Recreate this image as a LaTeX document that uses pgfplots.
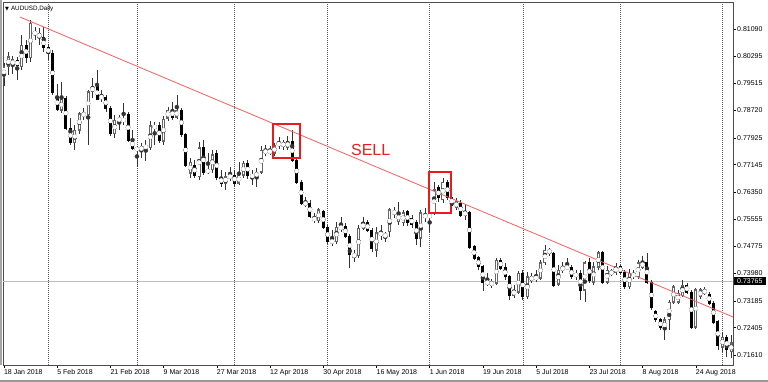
\documentclass[border=0pt]{standalone}
\usepackage{fontspec}
\setmainfont{Liberation Sans}
\newfontfamily\symfont{DejaVu Sans}
\usepackage{pgfplots}
\usepackage{pgfplotstable}
\pgfplotsset{compat=1.18}
\definecolor{trend}{RGB}{250,95,95}
\definecolor{boxred}{RGB}{232,28,32}
\definecolor{sellred}{RGB}{238,30,30}
\pgfplotstableread{
i o h l c
0 0.7969 0.8010 0.7943 0.7999
1 0.7999 0.8042 0.7975 0.8028
2 0.8004 0.8031 0.7978 0.8019
3 0.8016 0.8028 0.7961 0.8004
4 0.7999 0.8092 0.7990 0.8062
5 0.8062 0.8077 0.8010 0.8025
6 0.8025 0.8135 0.8013 0.8126
7 0.8100 0.8115 0.8077 0.8094
8 0.8097 0.8112 0.8062 0.8083
9 0.8083 0.8115 0.8042 0.8054
10 0.8054 0.8065 0.8019 0.8039
11 0.8039 0.8048 0.7917 0.7923
12 0.7914 0.7949 0.7871 0.7876
13 0.7873 0.7955 0.7865 0.7905
14 0.7908 0.7914 0.7815 0.7821
15 0.7821 0.7850 0.7772 0.7778
16 0.7778 0.7830 0.7757 0.7815
17 0.7815 0.7868 0.7804 0.7862
18 0.7862 0.7879 0.7844 0.7859
19 0.7859 0.7932 0.7772 0.7926
20 0.7926 0.7967 0.7908 0.7943
21 0.7943 0.7990 0.7903 0.7905
22 0.7908 0.7932 0.7897 0.7914
23 0.7911 0.7917 0.7868 0.7879
24 0.7879 0.7885 0.7798 0.7804
25 0.7804 0.7859 0.7792 0.7844
26 0.7847 0.7859 0.7815 0.7844
27 0.7839 0.7894 0.7830 0.7850
28 0.7859 0.7868 0.7780 0.7786
29 0.7786 0.7815 0.7757 0.7763
30 0.7763 0.7769 0.7708 0.7757
31 0.7757 0.7778 0.7734 0.7766
32 0.7763 0.7786 0.7725 0.7769
33 0.7763 0.7841 0.7757 0.7827
34 0.7827 0.7839 0.7772 0.7821
35 0.7827 0.7839 0.7778 0.7786
36 0.7783 0.7856 0.7772 0.7847
37 0.7850 0.7882 0.7841 0.7873
38 0.7873 0.7897 0.7844 0.7853
39 0.7853 0.7917 0.7847 0.7873
40 0.7873 0.7879 0.7795 0.7801
41 0.7801 0.7807 0.7708 0.7713
42 0.7690 0.7734 0.7676 0.7722
43 0.7713 0.7728 0.7676 0.7684
44 0.7679 0.7780 0.7670 0.7763
45 0.7763 0.7786 0.7684 0.7693
46 0.7699 0.7748 0.7687 0.7693
47 0.7699 0.7757 0.7690 0.7743
48 0.7748 0.7757 0.7670 0.7676
49 0.7676 0.7699 0.7650 0.7661
50 0.7661 0.7693 0.7641 0.7679
51 0.7676 0.7708 0.7667 0.7684
52 0.7684 0.7699 0.7650 0.7661
53 0.7661 0.7722 0.7655 0.7684
54 0.7684 0.7725 0.7676 0.7719
55 0.7719 0.7728 0.7673 0.7684
56 0.7684 0.7699 0.7655 0.7679
57 0.7679 0.7705 0.7650 0.7693
58 0.7693 0.7769 0.7687 0.7757
59 0.7757 0.7772 0.7740 0.7748
60 0.7754 0.7769 0.7743 0.7751
61 0.7748 0.7778 0.7740 0.7769
62 0.7769 0.7795 0.7760 0.7780
63 0.7780 0.7786 0.7757 0.7766
64 0.7763 0.7798 0.7757 0.7783
65 0.7783 0.7815 0.7722 0.7728
66 0.7728 0.7734 0.7658 0.7664
67 0.7664 0.7670 0.7597 0.7603
68 0.7603 0.7620 0.7591 0.7600
69 0.7603 0.7612 0.7559 0.7565
70 0.7562 0.7574 0.7545 0.7551
71 0.7551 0.7588 0.7545 0.7583
72 0.7577 0.7583 0.7527 0.7533
73 0.7533 0.7539 0.7484 0.7490
74 0.7487 0.7524 0.7478 0.7495
75 0.7490 0.7548 0.7484 0.7533
76 0.7530 0.7562 0.7519 0.7533
77 0.7536 0.7545 0.7501 0.7507
78 0.7507 0.7513 0.7414 0.7452
79 0.7452 0.7466 0.7431 0.7449
80 0.7449 0.7539 0.7443 0.7530
81 0.7530 0.7562 0.7524 0.7545
82 0.7545 0.7554 0.7519 0.7524
83 0.7524 0.7530 0.7460 0.7472
84 0.7466 0.7533 0.7446 0.7516
85 0.7516 0.7539 0.7495 0.7510
86 0.7510 0.7519 0.7490 0.7507
87 0.7519 0.7588 0.7504 0.7583
88 0.7577 0.7591 0.7559 0.7574
89 0.7548 0.7606 0.7539 0.7574
90 0.7545 0.7583 0.7536 0.7574
91 0.7577 0.7583 0.7536 0.7545
92 0.7559 0.7568 0.7530 0.7542
93 0.7545 0.7554 0.7481 0.7501
94 0.7501 0.7583 0.7475 0.7574
95 0.7562 0.7588 0.7548 0.7568
96 0.7568 0.7577 0.7516 0.7562
97 0.7574 0.7664 0.7568 0.7641
98 0.7647 0.7655 0.7606 0.7618
99 0.7612 0.7676 0.7603 0.7664
100 0.7664 0.7670 0.7612 0.7620
101 0.7620 0.7629 0.7574 0.7597
102 0.7591 0.7618 0.7583 0.7606
103 0.7603 0.7612 0.7562 0.7568
104 0.7568 0.7597 0.7554 0.7577
105 0.7574 0.7580 0.7469 0.7475
106 0.7475 0.7481 0.7437 0.7443
107 0.7443 0.7449 0.7408 0.7417
108 0.7417 0.7423 0.7347 0.7373
109 0.7373 0.7399 0.7362 0.7370
110 0.7373 0.7382 0.7356 0.7364
111 0.7370 0.7443 0.7364 0.7437
112 0.7437 0.7443 0.7408 0.7414
113 0.7414 0.7429 0.7379 0.7388
114 0.7388 0.7394 0.7321 0.7335
115 0.7335 0.7364 0.7327 0.7350
116 0.7344 0.7405 0.7338 0.7399
117 0.7399 0.7408 0.7321 0.7330
118 0.7330 0.7402 0.7324 0.7388
119 0.7388 0.7399 0.7370 0.7379
120 0.7382 0.7408 0.7373 0.7388
121 0.7385 0.7437 0.7379 0.7429
122 0.7429 0.7481 0.7423 0.7466
123 0.7466 0.7472 0.7449 0.7458
124 0.7455 0.7460 0.7359 0.7364
125 0.7367 0.7423 0.7362 0.7408
126 0.7408 0.7431 0.7399 0.7417
127 0.7414 0.7443 0.7408 0.7417
128 0.7414 0.7423 0.7382 0.7388
129 0.7388 0.7408 0.7379 0.7399
130 0.7399 0.7408 0.7321 0.7350
131 0.7350 0.7434 0.7315 0.7429
132 0.7429 0.7443 0.7370 0.7379
133 0.7373 0.7431 0.7364 0.7417
134 0.7417 0.7463 0.7408 0.7458
135 0.7458 0.7463 0.7367 0.7373
136 0.7373 0.7420 0.7367 0.7408
137 0.7402 0.7411 0.7391 0.7399
138 0.7402 0.7429 0.7394 0.7417
139 0.7417 0.7423 0.7397 0.7402
140 0.7402 0.7408 0.7353 0.7359
141 0.7359 0.7411 0.7353 0.7399
142 0.7399 0.7408 0.7382 0.7388
143 0.7388 0.7437 0.7382 0.7429
144 0.7417 0.7449 0.7411 0.7431
145 0.7431 0.7458 0.7367 0.7373
146 0.7373 0.7379 0.7292 0.7298
147 0.7286 0.7292 0.7257 0.7263
148 0.7263 0.7269 0.7234 0.7240
149 0.7234 0.7272 0.7205 0.7263
150 0.7263 0.7321 0.7234 0.7315
151 0.7315 0.7364 0.7309 0.7359
152 0.7315 0.7350 0.7309 0.7341
153 0.7335 0.7379 0.7330 0.7364
154 0.7364 0.7370 0.7338 0.7344
155 0.7344 0.7350 0.7237 0.7242
156 0.7242 0.7356 0.7237 0.7350
157 0.7330 0.7356 0.7324 0.7350
158 0.7350 0.7359 0.7335 0.7341
159 0.7338 0.7344 0.7306 0.7312
160 0.7312 0.7318 0.7251 0.7257
161 0.7257 0.7263 0.7176 0.7190
162 0.7184 0.7228 0.7170 0.7213
163 0.7213 0.7219 0.7155 0.7176
164 0.7170 0.7219 0.7152 0.7196
}\candles
\begin{document}
\begin{tikzpicture}
\useasboundingbox (0,0) rectangle (768pt,382pt);
\fill[white] (0,0) rectangle (768pt,382pt);
\begin{axis}[
  at={(3pt,17pt)}, anchor=south west,
  width=730pt, height=363pt, scale only axis,
  xmin=-0.2, xmax=164.4, ymin=0.71319, ymax=0.81875,
  axis line style={black!70, line width=0.6pt},
  xtick={0,12,24,36,48,60,72,84,96,108,120,132,144,156},
  xticklabels={18 Jan 2018,5 Feb 2018,21 Feb 2018,9 Mar 2018,27 Mar 2018,12 Apr 2018,30 Apr 2018,16 May 2018,1 Jun 2018,19 Jun 2018,5 Jul 2018,23 Jul 2018,8 Aug 2018,24 Aug 2018},
  ytick={0.81090,0.80295,0.79515,0.78720,0.77925,0.77145,0.76350,0.75555,0.74775,0.73980,0.73185,0.72405,0.71610},
  yticklabels={0.81090,0.80295,0.79515,0.78720,0.77925,0.77145,0.76350,0.75555,0.74775,0.73980,0.73185,0.72405,0.71610},
  xtick pos=left, ytick pos=right, yticklabel pos=right,
  tick align=outside, major tick length=3pt,
  tick style={black, line width=0.5pt},
  ticklabel style={font=\fontsize{7}{8}\selectfont},
  xticklabel style={anchor=north west, inner sep=0pt, xshift=0pt, yshift=-1pt},
  yticklabel style={anchor=west, inner sep=0pt, xshift=1pt},
  scaled y ticks=false, scaled x ticks=false,
  extra x ticks={10,30,52,73,96,117,139,162},
  extra x tick labels={},
  extra x tick style={grid=major, major tick length=0pt,
     major grid style={black!65, line width=0.5pt, dash pattern=on 1pt off 1pt}},
  every error bar/.append style={line cap=butt},
]
\addplot[black!25, line width=0.6pt, forget plot] coordinates {(-0.2,0.73765) (164.4,0.73765)};
% wicks
\addplot[black!80, only marks, mark=none, forget plot,
  error bars/.cd, y dir=both, y explicit, error mark=none,
  error bar style={line width=0.7pt, black!80, line cap=butt}]
  table[x=i, y expr={(\thisrow{h}+\thisrow{l})/2}, y error expr={(\thisrow{h}-\thisrow{l})/2}] {\candles};
% falling candles: black bodies
\addplot[black, only marks, mark=none, forget plot,
  error bars/.cd, y dir=both, y explicit, error mark=none,
  error bar style={line width=3pt, black, line cap=butt}]
  table[x=i, y expr={(\thisrow{o}+\thisrow{c})/2}, y error expr={\thisrow{c}>\thisrow{o} ? 0 : (\thisrow{o}-\thisrow{c})/2+0.00015}] {\candles};
% rising candles: grey outline
\addplot[black!60, only marks, mark=none, forget plot,
  error bars/.cd, y dir=both, y explicit, error mark=none,
  error bar style={line width=3pt, black!60, line cap=butt}]
  table[x=i, y expr={(\thisrow{o}+\thisrow{c})/2}, y error expr={\thisrow{c}>\thisrow{o} ? (\thisrow{c}-\thisrow{o})/2+0.00015 : 0}] {\candles};
% rising candles: white interior
\addplot[white, only marks, mark=none, forget plot,
  error bars/.cd, y dir=both, y explicit, error mark=none,
  error bar style={line width=1.3pt, white, line cap=butt}]
  table[x=i, y expr={(\thisrow{o}+\thisrow{c})/2}, y error expr={\thisrow{c}>\thisrow{o} ? max((\thisrow{c}-\thisrow{o})/2-0.0002,0) : 0}] {\candles};
% trend line
\addplot[trend, line width=0.8pt, forget plot] coordinates {(3.63,0.81439) (164.4,0.72715)};
\draw[boxred, line width=1.5pt] (axis cs:60.68,0.78327) rectangle (axis cs:66.77,0.77338);
\draw[boxred, line width=1.5pt] (axis cs:95.85,0.76931) rectangle (axis cs:100.8,0.75739);
\node[text=sellred, font=\fontsize{16}{16}\selectfont] at (axis cs:82.7,0.7757) {SELL};
\end{axis}
\fill[black!35] (0,17pt) rectangle (2pt,382pt);
\draw[black!40, line width=1.5pt] (0,1pt) -- (768pt,1pt);
\node[anchor=west, inner sep=0pt, font=\fontsize{6.3}{7}\selectfont] at (5pt,373.5pt) {{\symfont\fontsize{5}{6}\selectfont ▼}\hspace{2pt}AUDUSD,Daily};
\node[fill=black, text=white, anchor=west, inner xsep=3pt, inner ysep=1.5pt, font=\fontsize{7}{8}\selectfont] at (734pt,101pt) {0.73765};
\end{tikzpicture}
\end{document}
